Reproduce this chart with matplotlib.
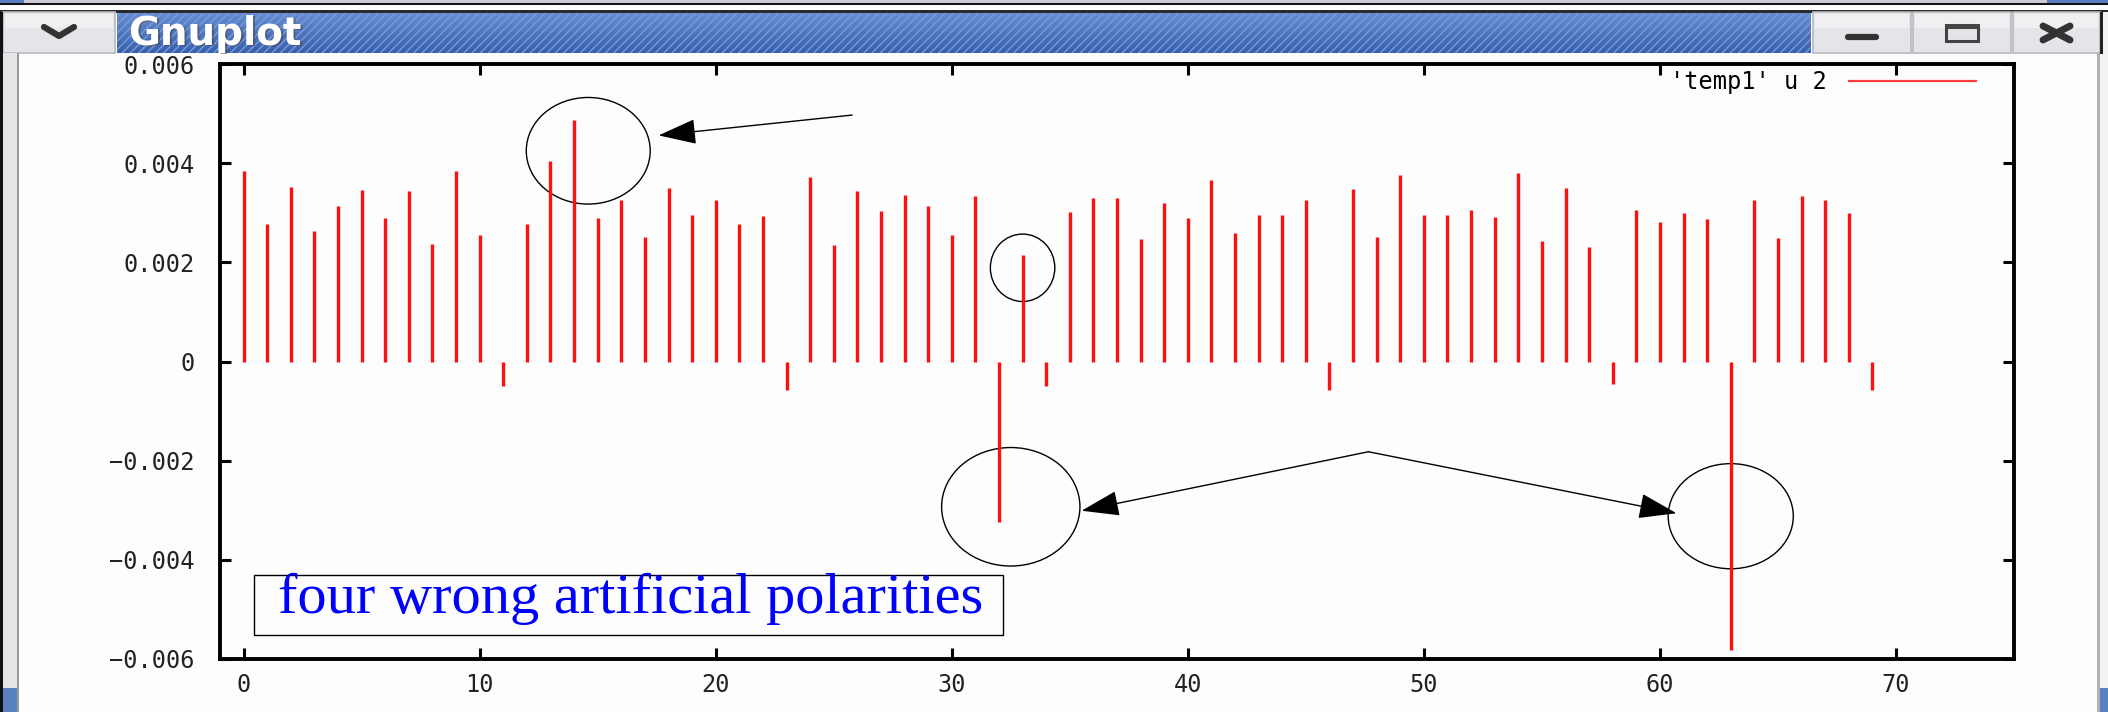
#!/usr/bin/env python3
"""
Gnuplot window screenshot: impulses of 'temp1' column 2,
with hand-drawn circles/arrows marking the wrong polarities.
"""

import matplotlib
matplotlib.use("Agg")
import matplotlib.pyplot as plt
from matplotlib.patches import Rectangle, Ellipse
from matplotlib.lines import Line2D
import numpy as np

# -----------------------------------------------------------------------------
# DATA
# -----------------------------------------------------------------------------
sample = list(range(70))
value = [
    0.00384, 0.00278, 0.00352, 0.00263, 0.00314, 0.00346, 0.00290, 0.00343,
    0.00237, 0.00384, 0.00255, -0.00049, 0.00278, 0.00405, 0.00488, 0.00290,
    0.00325, 0.00252, 0.00349, 0.00296, 0.00325, 0.00278, 0.00293, -0.00058,
    0.00373, 0.00234, 0.00343, 0.00304, 0.00335, 0.00313, 0.00255, 0.00333,
    -0.00324, 0.00214, -0.00049, 0.00301, 0.00329, 0.00329, 0.00248, 0.00320,
    0.00289, 0.00366, 0.00260, 0.00295, 0.00296, 0.00326, -0.00058, 0.00347,
    0.00252, 0.00377, 0.00295, 0.00296, 0.00306, 0.00292, 0.00381, 0.00243,
    0.00350, 0.00231, -0.00046, 0.00306, 0.00282, 0.00300, 0.00287, -0.00582,
    0.00326, 0.00249, 0.00334, 0.00326, 0.00300, -0.00058,
]
series_label = "'temp1' u 2"
note_text = "four wrong artificial polarities"

xticks = [0, 10, 20, 30, 40, 50, 60, 70]
yticks = [-0.006, -0.004, -0.002, 0, 0.002, 0.004, 0.006]
ytick_labels = ["\u22120.006", "\u22120.004", "\u22120.002", "0",
                "0.002", "0.004", "0.006"]

# circles drawn by hand: (x centre, y centre, width, height)
circles = [
    (14.6, 0.00425, 5.25, 0.00215),
    (33.0, 0.00189, 2.73, 0.00136),
    (32.5, -0.00293, 5.86, 0.00239),
    (63.0, -0.00312, 5.30, 0.00212),
]
# arrows: (tail x, tail y, head x, head y)
arrows = [
    (25.78, 0.00497, 17.58, 0.00456),
    (47.65, -0.00182, 35.5, -0.00301),
    (47.65, -0.00182, 60.7, -0.00306),
]

# -----------------------------------------------------------------------------
W, H = 2108, 712
fig = plt.figure(figsize=(W / 100, H / 100), dpi=100)
fig.patch.set_facecolor("#fdfdfd")


def px_rect(x, y, w, h, **kw):
    """Rectangle given in screen pixels (origin top-left)."""
    r = Rectangle((x / W, 1 - (y + h) / H), w / W, h / H,
                  transform=fig.transFigure, **kw)
    fig.add_artist(r)
    return r


def px_line(xs, ys, **kw):
    fig.add_artist(Line2D([x / W for x in xs], [1 - y / H for y in ys],
                          transform=fig.transFigure, **kw))


# ---- window chrome ----------------------------------------------------------
px_rect(0, 0, W, 4, facecolor="#c9cbd0", lw=0)
px_rect(0, 0, 24, 4, facecolor="#5a7fc0", lw=0)
px_rect(2047, 0, 61, 4, facecolor="#5a7fc0", lw=0)
px_rect(0, 3, W, 2, facecolor="#111111", lw=0)
px_rect(0, 5, W, 6, facecolor="#ffffff", lw=0)
px_rect(0, 10, W, 3, facecolor="#2a2a2a", lw=0)

# title bar with blue gradient and diagonal stripes
tb = fig.add_axes([117 / W, 1 - 53 / H, (1811 - 117) / W, 41 / H])
grad = np.linspace(0, 1, 64).reshape(-1, 1)
top_c = np.array([0.40, 0.55, 0.82])
bot_c = np.array([0.22, 0.38, 0.68])
img = top_c * (1 - grad[..., None]) + bot_c * grad[..., None]
tb.imshow(img, aspect="auto", extent=(0, 1, 0, 1))
plt.rcParams["hatch.linewidth"] = 1.0
tb.add_patch(Rectangle((0, 0), 1, 1, fill=False, hatch="////",
                       edgecolor="#7b9bd6", lw=0))
tb.set_axis_off()
fig.text(130 / W, 1 - 35 / H, "Gnuplot", color="#444444", fontsize=28,
         fontweight="bold", va="center", ha="left",
         family="DejaVu Sans", alpha=0.5)
fig.text(128 / W, 1 - 34 / H, "Gnuplot", color="white", fontsize=28,
         fontweight="bold", va="center", ha="left", family="DejaVu Sans")

# buttons
for bx, bw in [(3, 112), (1813, 98), (1913, 98), (2013, 87)]:
    px_rect(bx, 12, bw, 41, facecolor="#e4e5e8", edgecolor="#b8b9bd", lw=1.2)
    px_rect(bx + 2, 14, bw - 4, 14, facecolor="#f0f0f2", lw=0)
px_line([44, 59, 74], [27, 36, 27], color="#333333", lw=4.5,
        solid_capstyle="round", solid_joinstyle="round")
px_line([1848, 1876], [37, 37], color="#333333", lw=4.5, solid_capstyle="round")
px_rect(1946, 25, 32, 16, facecolor="none", edgecolor="#444444", lw=2.2)
px_rect(1946, 25, 32, 4, facecolor="#444444", lw=0)
px_line([2043, 2070], [26, 40], color="#333333", lw=5, solid_capstyle="round")
px_line([2043, 2070], [40, 26], color="#333333", lw=5, solid_capstyle="round")

# side borders
px_rect(0, 12, 3, H, facecolor="#111111", lw=0)
px_rect(3, 53, 14, H, facecolor="#e6e6e8", lw=0)
px_rect(17, 53, 2, H, facecolor="#9a9a9a", lw=0)
px_rect(3, 688, 14, 30, facecolor="#5a7fc0", lw=0)
px_rect(2097, 53, 3, H, facecolor="#b0b0b0", lw=0)
px_rect(2100, 12, 8, H, facecolor="#f2f2f2", lw=0)
px_rect(2100, 688, 8, 30, facecolor="#5a7fc0", lw=0)
px_rect(2100, 12, 3, 42, facecolor="#222222", lw=0)

# ---- plot -------------------------------------------------------------------
ax = fig.add_axes([220 / W, 1 - 659 / H, (2014 - 220) / W, (659 - 64) / H])
ax.set_facecolor("#fdfdfd")
ax.vlines(sample, 0, value, colors="#ff1010", lw=2.4)
ax.set_xlim(-1, 75)
ax.set_ylim(-0.006, 0.006)

ax.set_xticks(xticks)
ax.set_yticks(yticks)
ax.set_yticklabels(ytick_labels)
ax.tick_params(direction="in", length=8, width=2.2, top=True, right=True,
               labelsize=17, labelcolor="#222222", colors="black")
ax.tick_params(axis="y", pad=18)
ax.tick_params(axis="x", pad=10)
for lab in ax.get_xticklabels() + ax.get_yticklabels():
    lab.set_family("DejaVu Sans Mono")
for sp in ax.spines.values():
    sp.set_linewidth(2.8)

ax.legend(handles=[Line2D([], [], color="#ff4040", lw=1.6)],
          labels=[series_label], loc="upper right",
          bbox_to_anchor=(1976 / W, 1 - 70 / H),
          bbox_transform=fig.transFigure, frameon=False, markerfirst=False,
          handlelength=5.4, handletextpad=0.9, borderpad=0,
          borderaxespad=0, prop={"family": "DejaVu Sans Mono", "size": 17})

# hand-drawn annotations
for cx, cy, cw, ch in circles:
    ax.add_patch(Ellipse((cx, cy), cw, ch, fill=False, edgecolor="black",
                         lw=1.0))
for x0, y0, x1, y1 in arrows:
    ax.annotate("", xy=(x1, y1), xytext=(x0, y0),
                arrowprops=dict(arrowstyle="-|>,head_length=1.2,head_width=0.4",
                                mutation_scale=20, color="black", lw=1.0,
                                shrinkA=0, shrinkB=0))

ax.add_patch(Rectangle((0.45, -0.00551), 31.7, 0.0012, fill=False,
                       edgecolor="black", lw=1.0, zorder=4))
ax.text(16.4, -0.00508, note_text, color="#0000ff", fontsize=42,
        family="Liberation Serif", ha="center", va="baseline", zorder=5)

fig.savefig("out.png", dpi=100, facecolor=fig.get_facecolor())
